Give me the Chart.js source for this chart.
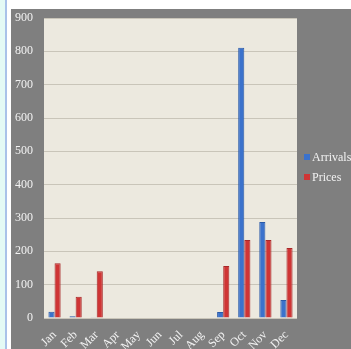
<!DOCTYPE html>
<html>
<head>
<meta charset="utf-8">
<script src="https://cdn.jsdelivr.net/npm/chart.js@4.4.1/dist/chart.umd.min.js"></script>
<style>
  html, body { margin:0; padding:0; width:351px; height:349px; overflow:hidden; background:#fff; }
  .strip { position:absolute; left:0; top:0; width:5px; height:349px; background:#e4faf5; }
  .rule { position:absolute; left:5px; top:0; width:2px; height:349px; background:#a9c2e9; }
  .frame { position:absolute; left:11px; top:9px; width:340px; height:340px; background:#7f7f7f; }
  .legend { position:absolute; left:293px; top:138px; font-family:'Liberation Serif', serif; font-size:12px; color:#f2f2f2; white-space:nowrap; }
  .legend div { display:flex; align-items:center; height:20px; }
  .legend span.sw { width:6px; height:6px; margin-right:2px; }
</style>
</head>
<body>
<div class="strip"></div>
<div class="rule"></div>
<div class="frame">
  <canvas id="c" width="340" height="340"></canvas>
  <div class="legend">
    <div><span class="sw" style="background:#3b72cc"></span>Arrivals</div>
    <div><span class="sw" style="background:#cf3535"></span>Prices</div>
  </div>
</div>
<script>
const months = ['Jan','Feb','Mar','Apr','May','Jun','Jul','Aug','Sep','Oct','Nov','Dec'];
const arrivals = [19, 5, 1, 0, 0, 0, 0, 0, 18, 811, 288, 54];
const prices = [164, 64, 140, 0, 0, 0, 0, 0, 156, 234, 234, 210];
const yTicks = [0, 100, 200, 300, 400, 500, 600, 700, 800, 900];

const plotBg = {
  id: 'plotBg',
  beforeDraw(chart) {
    const { ctx, chartArea: a } = chart;
    ctx.save();
    ctx.fillStyle = '#ece9df';
    ctx.fillRect(a.left, a.top, a.right - a.left, a.bottom - a.top);
    ctx.restore();
  }
};

const serif = { family: "'Liberation Serif', serif", size: 12 };

new Chart(document.getElementById('c'), {
  type: 'bar',
  data: {
    labels: months,
    datasets: [
      { label: 'Arrivals', data: arrivals, backgroundColor: '#3b72cc', borderColor: '#2a5aa8', borderWidth: 1 },
      { label: 'Prices', data: prices, backgroundColor: '#cf3535', borderColor: '#a82828', borderWidth: 1 }
    ]
  },
  options: {
    responsive: false,
    animation: false,
    layout: { padding: { left: 0, top: 9, right: 54, bottom: 0 } },
    plugins: { legend: { display: false }, tooltip: { enabled: false } },
    datasets: { bar: { categoryPercentage: 0.58, barPercentage: 1.0 } },
    scales: {
      x: {
        grid: { display: false },
        border: { display: false },
        ticks: { color: '#f2f2f2', font: serif, maxRotation: 45, minRotation: 45, autoSkip: false, padding: 2 },
        afterFit: s => { s.height = 31; s.paddingLeft = 0; s.paddingRight = 0; }
      },
      y: {
        min: 0, max: 900,
        afterBuildTicks: s => { s.ticks = yTicks.map(v => ({ value: v })); },
        grid: { color: '#c9c5b9', drawTicks: false },
        border: { display: false },
        ticks: { color: '#f2f2f2', font: serif, padding: 11 },
        afterFit: s => { s.width = 33; s.paddingTop = 0; s.paddingBottom = 0; }
      }
    }
  },
  plugins: [plotBg]
});
</script>
</body>
</html>
